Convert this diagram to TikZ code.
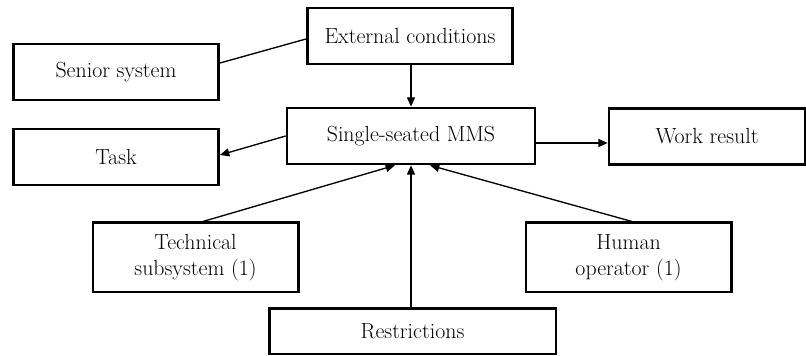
\documentclass[tikz,border=0pt]{standalone}
\usetikzlibrary{arrows.meta, positioning}

\begin{document}
\begin{tikzpicture}[
    x=0.75pt, y=0.75pt,
    block/.style={rectangle, draw=black, line width=2pt, minimum width=154pt, minimum height=42pt, inner sep=2pt, font=\fontsize{16.4}{19.5}\selectfont, align=center},
    line/.style={line width=1pt, black},
    arrow/.style={line, -{Triangle[length=7pt, width=6pt]}}
]
    \useasboundingbox (0,0) rectangle (806,356);

    % Upper row
    \node[block] (senior) at (116,284) {Senior system};
    \node[block] (task) at (116,199) {Task};
    \node[block] (ext) at (410,320) {External conditions};

    % System
    \node[block, minimum width=186pt] (mms) at (411,220) {Single-seated MMS};
    \node[block, minimum width=147pt] (work) at (707,219.5) {Work result};

    % Lower row
    \node[block, minimum height=52pt] (tech) at (195.5,98.5) {Technical\\subsystem (1)};
    \node[block, minimum height=52pt] (human) at (628.5,98.5) {Human\\operator (1)};
    \node[block, minimum width=215pt, minimum height=34pt] (restr) at (412.5,24.5) {Restrictions};

    % Connectors
    \draw[line] ([yshift=6.75pt]senior.east) -- ([yshift=-2.25pt]ext.west);
    \draw[arrow] (ext.south -| mms.north) -- (mms.north);
    \draw[arrow] (mms.west) -- ([yshift=1.5pt]task.east);
    \coordinate (mmsout) at ([yshift=-5.25pt]mms.east);
    \draw[arrow] (mmsout) -- (mmsout -| work.west);
    \draw[arrow] ([xshift=5.6pt]tech.north) -- ([xshift=-12pt]mms.south);
    \draw[arrow] (restr.north -| mms.south) -- (mms.south);
    \draw[arrow] ([xshift=2.6pt]human.north) -- ([xshift=14.25pt]mms.south);
\end{tikzpicture}
\end{document}
